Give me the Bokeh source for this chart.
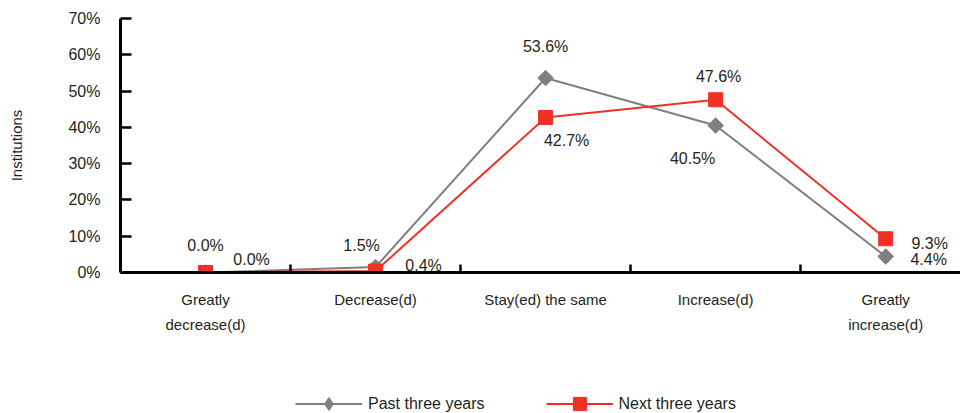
from bokeh.plotting import figure
from bokeh.layouts import column
from bokeh.core.properties import value
from bokeh.models import (ColumnDataSource, Range1d, FixedTicker, PrintfTickFormatter,
                          LabelSet, Legend, LegendItem)
from bokeh.embed import file_html
from bokeh.resources import INLINE

# ---- data ----
categories = ["Greatly\ndecrease(d)", "Decrease(d)", "Stay(ed) the same", "Increase(d)", "Greatly\nincrease(d)"]
past = [0.0, 1.5, 53.6, 40.5, 4.4]
nxt = [0.0, 0.4, 42.7, 47.6, 9.3]
series_names = ["Past three years", "Next three years"]
y_ticks = [0, 10, 20, 30, 40, 50, 60, 70]

# ---- styles ----
FONT = "Liberation Sans"
TXT = "#231f20"
GRAY = "#7f7f7f"
RED = "#ee3124"
past_dx = [0, -14, 0, -23, 43]
past_dy = [27, 22, 32, -33, -3]
next_dx = [46, 48, 21, 3, 44]
next_dy = [13, 6, -23, 23, -5]

xs = list(range(len(categories)))

p = figure(width=960, height=380, output_backend="svg", toolbar_location=None,
           x_range=Range1d(-0.5, 4.44), y_range=Range1d(0, 70),
           min_border_left=120, min_border_right=0, min_border_top=18, min_border_bottom=108)
p.outline_line_color = None
p.xgrid.visible = False
p.ygrid.visible = False
p.background_fill_color = "white"
p.border_fill_color = "white"

# y axis
ya = p.yaxis[0]
ya.ticker = FixedTicker(ticks=y_ticks, minor_ticks=[])
ya.formatter = PrintfTickFormatter(format="%d%%")
ya.axis_line_width = 3
ya.axis_line_color = "black"
ya.major_tick_in = 11
ya.major_tick_out = 0
ya.major_tick_line_width = 2.5
ya.minor_tick_line_color = None
ya.major_label_standoff = 20
ya.major_label_text_font = FONT
ya.major_label_text_font_size = "16px"
ya.major_label_text_color = TXT
ya.axis_label = "Institutions"
ya.axis_label_text_font = FONT
ya.axis_label_text_font_size = "15px"
ya.axis_label_text_font_style = "normal"
ya.axis_label_text_color = TXT
ya.axis_label_standoff = 40

# x axis
xa = p.xaxis[0]
xa.ticker = FixedTicker(ticks=xs, minor_ticks=[0.5, 1.5, 2.5, 3.5])
xa.major_label_overrides = {i: c for i, c in enumerate(categories)}
xa.axis_line_width = 3
xa.axis_line_color = "black"
xa.major_tick_line_color = None
xa.minor_tick_in = 8
xa.minor_tick_out = 0
xa.minor_tick_line_width = 2.5
xa.minor_tick_line_color = "black"
xa.major_label_standoff = 12
xa.major_label_text_font = FONT
xa.major_label_text_font_size = "15px"
xa.major_label_text_color = TXT
xa.major_label_text_line_height = 1.5

src_p = ColumnDataSource(dict(x=xs, y=past, lbl=[f"{v:.1f}%" for v in past], dx=past_dx, dy=past_dy))
src_n = ColumnDataSource(dict(x=xs, y=nxt, lbl=[f"{v:.1f}%" for v in nxt], dx=next_dx, dy=next_dy))

p.line("x", "y", source=src_p, line_color=GRAY, line_width=2)
p.scatter("x", "y", source=src_p, marker="square", angle=0.785398, size=11,
          fill_color=GRAY, line_color=GRAY)
p.line("x", "y", source=src_n, line_color=RED, line_width=2)
p.scatter("x", "y", source=src_n, marker="square", size=14,
          fill_color=RED, line_color=RED)

for src in (src_p, src_n):
    p.add_layout(LabelSet(x="x", y="y", text="lbl", x_offset="dx", y_offset="dy", source=src,
                          text_align="center", text_baseline="middle",
                          text_font=value(FONT), text_font_size="16px", text_color=TXT))

# ---- legend strip (series drawn off-range so that only the legend shows) ----
lf = figure(width=960, height=33, output_backend="svg", toolbar_location=None,
            x_axis_location=None, y_axis_location=None,
            x_range=Range1d(100, 101), y_range=Range1d(100, 101),
            min_border=0, min_border_left=0, min_border_right=0,
            min_border_top=0, min_border_bottom=0)
lf.outline_line_color = None
lf.xgrid.visible = False
lf.ygrid.visible = False
lp = lf.line("x", "y", source=src_p, line_color=GRAY, line_width=2)
mp = lf.scatter("x", "y", source=src_p, marker="diamond", size=14,
                fill_color=GRAY, line_color=GRAY)
ln = lf.line("x", "y", source=src_n, line_color=RED, line_width=2)
mn = lf.scatter("x", "y", source=src_n, marker="square", size=14,
                fill_color=RED, line_color=RED)
legend = Legend(items=[LegendItem(label=series_names[0], renderers=[lp, mp]),
                       LegendItem(label=series_names[1], renderers=[ln, mn])],
                orientation="horizontal", location=(175, -7),
                glyph_width=67, glyph_height=33, label_standoff=6, spacing=61,
                padding=0, margin=0, border_line_color=None, background_fill_alpha=0,
                label_text_font=FONT, label_text_font_size="16px", label_text_color=TXT)
lf.add_layout(legend)

layout = column(p, lf, spacing=0)
open("out.html", "w").write(file_html(layout, INLINE))
